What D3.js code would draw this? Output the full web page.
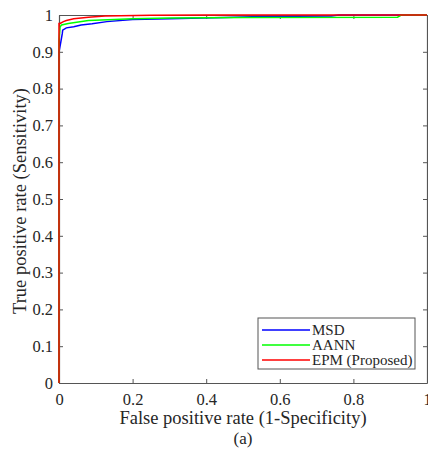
<!DOCTYPE html>
<html>
<head>
<meta charset="utf-8">
<script src="https://cdn.jsdelivr.net/npm/d3@7"></script>
<style>
  body { margin: 0; background: #fff; }
  svg text { font-family: "Liberation Serif", "Times New Roman", serif; fill: #262626; }
</style>
</head>
<body>
<div id="chart"></div>
<script>
// ROC curves: [FPR, TPR]
const msd = [[0, 0], [0, 0.90], [0.005, 0.927], [0.009, 0.95], [0.01, 0.959], [0.02, 0.965],
  [0.04, 0.968], [0.06, 0.973], [0.09, 0.976], [0.13, 0.982], [0.2, 0.988], [0.3, 0.99],
  [0.45, 0.993], [0.55, 0.996], [0.74, 0.997], [0.76, 1], [1, 1]];
const aann = [[0, 0], [0, 0.93], [0.003, 0.968], [0.007, 0.973], [0.025, 0.977], [0.08, 0.985],
  [0.15, 0.988], [0.2, 0.99], [0.3, 0.992], [0.5, 0.993], [0.92, 0.994], [0.93, 1], [1, 1]];
const epm = [[0, 0], [0, 0.977], [0.003, 0.977], [0.012, 0.982], [0.02, 0.985], [0.04, 0.99],
  [0.08, 0.994], [0.125, 0.997], [0.25, 0.999], [0.4, 1], [1, 1]];

const seriesNames = ["MSD", "AANN", "EPM (Proposed)"];
const seriesColors = ["#0000ff", "#00ff00", "#ff0000"];
const xTicks = [0, 0.2, 0.4, 0.6, 0.8, 1];
const yTicks = [0, 0.1, 0.2, 0.3, 0.4, 0.5, 0.6, 0.7, 0.8, 0.9, 1];

const W = 428, H = 457;
const margin = {left: 59, top: 15, right: 1, bottom: 74};
const iw = W - margin.left - margin.right;
const ih = H - margin.top - margin.bottom;

const svg = d3.select("#chart").append("svg")
  .attr("width", W)
  .attr("height", H);

const g = svg.append("g").attr("transform", `translate(${margin.left},${margin.top})`);

const x = d3.scaleLinear().domain([0, 1]).range([0, iw]);
const y = d3.scaleLinear().domain([0, 1]).range([ih, 0]);

const fmt = d => d === 0 || d === 1 ? String(d) : d3.format(".1f")(d);

// axes, ticks pointing inward like matlab
const xAxis = g.append("g").attr("transform", `translate(0,${ih})`)
  .call(d3.axisBottom(x).tickValues(xTicks).tickFormat(fmt).tickSizeInner(-4).tickSizeOuter(0).tickPadding(10));
const xTop = g.append("g")
  .call(d3.axisTop(x).tickValues(xTicks).tickFormat("").tickSizeInner(-4).tickSizeOuter(0));
const yAxis = g.append("g")
  .call(d3.axisLeft(y).tickValues(yTicks).tickFormat(fmt).tickSizeInner(-4).tickSizeOuter(0).tickPadding(6));
const yRight = g.append("g").attr("transform", `translate(${iw},0)`)
  .call(d3.axisRight(y).tickValues(yTicks).tickFormat("").tickSizeInner(-4).tickSizeOuter(0));

[xAxis, xTop, yAxis, yRight].forEach(a => {
  a.select(".domain").attr("stroke", "#555").attr("stroke-width", 1.2);
  a.selectAll(".tick line").attr("stroke", "#555");
  a.selectAll("text").style("font-size", "16.5px")
    .style("font-family", '"Liberation Serif", serif').attr("fill", "#262626");
});

const line = d3.line().x(d => x(d[0])).y(d => y(d[1]));

[msd, aann, epm].forEach((s, i) => {
  g.append("path")
    .datum(s)
    .attr("d", line)
    .attr("fill", "none")
    .attr("stroke", seriesColors[i])
    .attr("stroke-width", 1.5);
});

// axis labels
svg.append("text")
  .attr("x", 243)
  .attr("y", 424)
  .attr("text-anchor", "middle")
  .style("font-size", "18.5px")
  .text("False positive rate (1-Specificity)");

svg.append("text")
  .attr("transform", "translate(26,201) rotate(-90)")
  .attr("text-anchor", "middle")
  .style("font-size", "18.5px")
  .text("True positive rate (Sensitivity)");

svg.append("text")
  .attr("x", 243)
  .attr("y", 444)
  .attr("text-anchor", "middle")
  .style("font-size", "17px")
  .text("(a)");

// legend
const leg = svg.append("g").attr("transform", "translate(258,318)");
leg.append("rect")
  .attr("width", 157).attr("height", 51)
  .attr("fill", "#fff").attr("stroke", "#555").attr("stroke-width", 1);

seriesNames.forEach((name, i) => {
  const ly = 12 + i * 15;
  leg.append("line")
    .attr("x1", 4).attr("x2", 52)
    .attr("y1", ly).attr("y2", ly)
    .attr("stroke", seriesColors[i]).attr("stroke-width", 1.5);
  leg.append("text")
    .attr("x", 54).attr("y", ly + 5)
    .style("font-size", "15px")
    .text(name);
});
</script>
</body>
</html>
